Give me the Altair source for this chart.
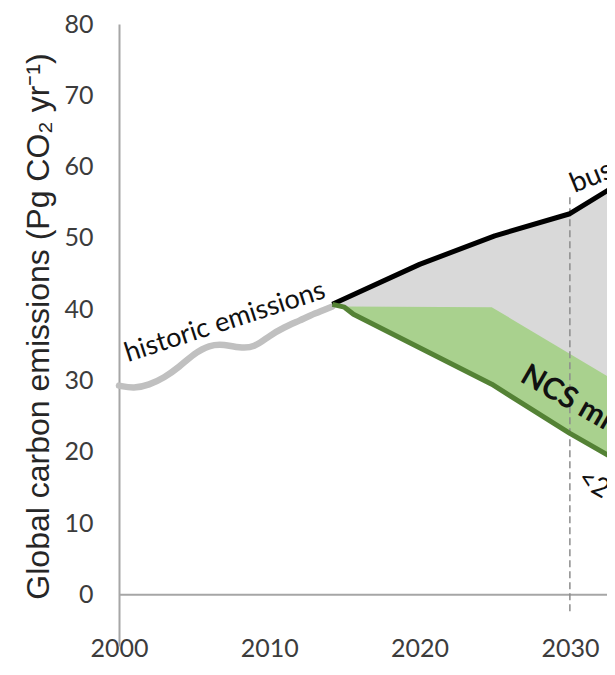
import altair as alt
import pandas as pd

# ---- data ----
hist_years = [2000, 2001, 2002, 2003, 2004, 2005, 2006, 2007, 2008, 2009, 2010, 2011, 2012, 2013, 2014.2]
hist_vals = [29.3, 28.9, 29.4, 30.4, 31.9, 33.8, 35.0, 35.1, 34.6, 34.6, 36.3, 37.5, 38.4, 39.4, 40.4]

bau_years = [2014.2, 2020, 2025, 2030, 2033]
bau_vals = [40.7, 46.3, 50.3, 53.4, 57.3]

ncs_top_years = [2014.2, 2015, 2024.8, 2033]
ncs_top_vals = [40.7, 40.4, 40.3, 30.0]

path_years = [2014.2, 2015.0, 2015.6, 2024.8, 2030, 2033]
path_vals = [40.7, 40.3, 39.3, 29.5, 22.6, 19.0]

x_ticks = [2000, 2010, 2020, 2030]
y_ticks = [0, 10, 20, 30, 40, 50, 60, 70, 80]
target_year = [2030]

X_DOMAIN = [2000, 2032.47]
Y_DOMAIN = [-7.2, 80]

LABEL_FONT = "Lato"

xs = alt.Scale(domain=X_DOMAIN, nice=False, zero=False)
ys = alt.Scale(domain=Y_DOMAIN, nice=False, zero=False)


def X(field="x"):
    return alt.X(f"{field}:Q", scale=xs,
                 axis=alt.Axis(values=x_ticks, format="d", title=None, grid=False,
                               domain=False, ticks=False, labelFlush=False,
                               labelOverlap=False, labelFont=LABEL_FONT,
                               labelFontSize=25, labelColor="#3c3c3c",
                               labelPadding=-10, labelBaseline="top"))


def Y(field="y"):
    return alt.Y(f"{field}:Q", scale=ys,
                 axis=alt.Axis(values=y_ticks, grid=False, ticks=False,
                               domainColor="#a6a6a6", domainWidth=2,
                               labelFont=LABEL_FONT, labelFontSize=25,
                               labelColor="#3c3c3c", labelPadding=26,
                               title="Global carbon emissions (Pg CO\u2082 yr\u207b\u00b9)",
                               titleFont="Liberation Sans", titleFontSize=32,
                               titleFontWeight="normal", titleColor="#262626",
                               titleAngle=270, titleAnchor="middle",
                               titleAlign="center", titleBaseline="middle",
                               titleX=-81, titleY=302))


hist_df = pd.DataFrame({"x": hist_years, "y": hist_vals})
bau_df = pd.DataFrame({"x": bau_years, "y": bau_vals})
top_df = pd.DataFrame({"x": ncs_top_years, "y": ncs_top_vals})
path_df = pd.DataFrame({"x": path_years, "y": path_vals})

grey_area = alt.Chart(bau_df).mark_area(
    color="#d9d9d9", opacity=1, clip=True).encode(
    x=X(), y=Y(), y2=alt.datum(0))
green_area = alt.Chart(top_df).mark_area(color="#a9d18e", opacity=1, clip=True).encode(
    x=X(), y=Y(), y2=alt.datum(0))
white_area = alt.Chart(path_df).mark_area(
    color="#ffffff", opacity=1, stroke="#ffffff", strokeWidth=2, clip=True).encode(
    x=X(), y=Y(), y2=alt.datum(0))

zero_line = alt.Chart(pd.DataFrame({"y": [0]})).mark_rule(
    color="#a6a6a6", strokeWidth=2).encode(y=Y())

dash_line = alt.Chart(pd.DataFrame({"x": target_year, "y": [55.7], "y2": [-2.4]})).mark_rule(
    color="#8c8c8c", strokeWidth=1.5, strokeDash=[7, 4]).encode(
    x=X(), y=Y(), y2="y2:Q")

hist_line = alt.Chart(hist_df).mark_line(
    color="#c0c0c0", strokeWidth=6.5, interpolate="basis", strokeCap="round").encode(
    x=X(), y=Y())
bau_line = alt.Chart(bau_df).mark_line(
    color="#000000", strokeWidth=5, clip=True, strokeJoin="round").encode(x=X(), y=Y())
path_line = alt.Chart(path_df).mark_line(
    color="#548235", strokeWidth=5, clip=True, strokeJoin="round").encode(x=X(), y=Y())


def label(text, x, y, angle, size, weight="normal"):
    df = pd.DataFrame({"x": [x], "y": [y], "t": [text]})
    return alt.Chart(df).mark_text(
        align="left", baseline="alphabetic", angle=angle, font=LABEL_FONT,
        fontSize=size, fontWeight=weight, color="#111111", clip=True).encode(
        x=X(), y=Y(), text="t:N")


t_hist = label("historic emissions", 2000.6, 32.6, 342, 27)
t_bau = label("business as usual", 2030.3, 56.3, 338, 28)
t_ncs = label("NCS mitigation", 2026.6, 30.0, 30, 30, "bold")
t_2c = label("<2°C", 2030.4, 15.6, 30, 27)

chart = alt.layer(
    grey_area, green_area, white_area, zero_line, dash_line,
    hist_line, bau_line, path_line, t_hist, t_bau, t_ncs, t_2c
).properties(
    width=488, height=622,
    padding={"left": 111, "top": 16, "right": 0, "bottom": 14},
    autosize=alt.AutoSizeParams(type="none"),
).configure_view(stroke=None)

chart.save("out.html", embed_options={"renderer": "svg", "actions": False})
